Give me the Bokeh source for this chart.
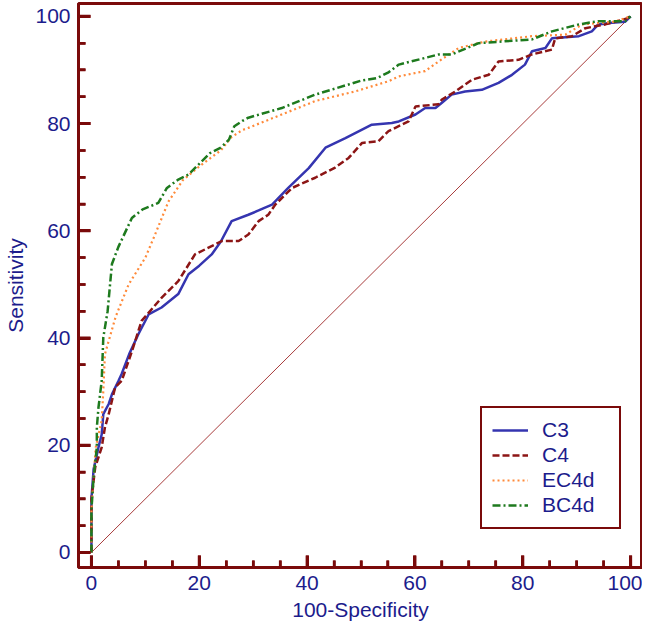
import math
from bokeh.plotting import figure
from bokeh.models import Range1d, SingleIntervalTicker, Legend, LegendItem
from bokeh.embed import file_html
from bokeh.resources import INLINE

# ---- data ----
series_names = ["C3", "C4", "EC4d", "BC4d"]

c3_x = [0, 0, 0.4, 1.3, 1.9, 2.2, 3.2, 3.8, 5.0, 5.6, 7.0, 8.7, 10.6, 13.0, 16.1, 18.0, 20.0, 22.3, 24.0,
        26.0, 29.1, 31.0, 33.5, 36.5, 40.3, 43.4, 47.1, 52.0, 55.7, 57.0, 60.1, 61.9, 63.8, 65.0, 66.8, 69.3,
        72.4, 75.5, 78.0, 80.4, 81.7, 84.2, 85.4, 90.4, 92.8, 94.0, 96.5, 99.0, 100]
c3_y = [0, 10, 15.5, 19.6, 22.0, 25.8, 27.7, 29.5, 32.0, 33.3, 37.0, 40.7, 44.4, 45.7, 48.2, 51.9, 53.5, 55.6, 58.0,
        61.8, 63.0, 63.8, 64.9, 68.0, 71.7, 75.5, 77.3, 79.8, 80.1, 80.4, 81.7, 82.9, 82.9, 83.9, 85.4, 86.0,
        86.3, 87.6, 89.1, 91.0, 93.5, 94.1, 95.9, 96.3, 97.2, 98.5, 98.8, 99.0, 100]

c4_x = [0, 0, 0.7, 1.9, 2.5, 3.2, 3.8, 4.4, 5.6, 7.5, 9.3, 13.0, 16.1, 19.2, 22.0, 24.2, 27.3, 29.1, 31.0,
        32.8, 34.1, 37.2, 41.5, 45.2, 47.7, 50.2, 53.2, 55.1, 58.8, 60.1, 64.4, 65.0, 67.5, 70.6, 73.7, 75.5,
        79.2, 81.7, 85.4, 86.0, 89.1, 91.6, 95.3, 99.0, 100]
c4_y = [0, 10, 15.9, 19.6, 23.3, 25.8, 28.3, 30.8, 32.0, 37.5, 43.2, 47.5, 50.6, 55.6, 57.0, 58.1, 58.1, 59.3, 61.8,
        63.0, 64.9, 68.0, 69.9, 71.8, 73.6, 76.4, 76.7, 78.6, 80.4, 83.2, 83.6, 84.5, 86.0, 88.2, 89.1, 91.6,
        91.9, 92.9, 93.8, 95.9, 96.3, 97.8, 98.5, 99.5, 100]

ec4d_x = [0, 0, 0.4, 0.8, 1.9, 2.2, 2.5, 4.5, 6.9, 10.0, 11.8, 14.3, 17.0, 20.0, 22.0, 24.0, 26.0, 28.0, 29.1,
          35.3, 41.5, 48.9, 55.1, 57.0, 61.9, 64.4, 68.1, 73.0, 81.7, 87.9, 91.0, 97.0, 100]
ec4d_y = [0, 8, 14.0, 19.6, 24.6, 30.2, 37.0, 44.0, 50.0, 55.0, 59.3, 65.5, 69.5, 72.0, 73.5, 75.0, 77.5, 78.8, 79.2,
          81.7, 84.2, 86.0, 87.9, 88.8, 89.8, 91.6, 94.1, 95.3, 96.3, 96.6, 98.5, 99.0, 100]

bc4d_x = [0, 0, 0.4, 1.0, 1.0, 1.3, 1.9, 2.2, 3.0, 3.8, 5.0, 7.5, 9.5, 12.4, 14.0, 16.0, 18.0, 20.0, 22.0,
          24.0, 25.5, 26.5, 28.0, 29.1, 35.3, 41.5, 47.7, 50.0, 53.0, 55.0, 57.0, 64.4, 66.8, 71.8, 81.7, 85.4,
          90.4, 94.0, 99.0, 100]
bc4d_y = [0, 8, 14.0, 19.6, 23.3, 27.0, 32.0, 40.1, 45.0, 53.8, 57.0, 62.4, 64.0, 65.2, 68.0, 69.5, 70.5, 72.5, 74.5,
          75.5, 77.0, 79.5, 80.5, 81.1, 82.9, 85.4, 87.3, 88.0, 88.5, 89.5, 91.0, 92.9, 92.9, 95.0, 95.7, 97.2,
          98.5, 99.1, 99.1, 100]

diag_x = [0, 100]
diag_y = [0, 100]

major_ticks = [0, 20, 40, 60, 80, 100]
minor_ticks = [5, 10, 15, 25, 30, 35, 45, 50, 55, 65, 70, 75, 85, 90, 95]

# ---- styles ----
MAROON = "#7a0a0a"
NAVY = "#1c1c8c"
FONT = "Liberation Sans"
FS = "21px"
X0, X1 = -2.4, 102.2
Y0, Y1 = -2.8, 102.4

p = figure(width=642, height=625, output_backend="svg", toolbar_location=None,
           x_range=Range1d(X0, X1), y_range=Range1d(Y0, Y1),
           min_border_left=78, min_border_right=0, min_border_top=3, min_border_bottom=58)

p.background_fill_color = "white"
p.border_fill_color = "white"
p.outline_line_color = MAROON
p.outline_line_width = 3
p.outline_line_alpha = 1
p.xgrid.visible = False
p.ygrid.visible = False

p.line(diag_x, diag_y, line_color="#a83c3c", line_width=1)

r_c3 = p.line(c3_x, c3_y, line_color="#3535b0", line_width=2.5)
r_c4 = p.line(c4_x, c4_y, line_color="#8c1515", line_width=2.5, line_dash="7 3")
r_ec = p.line(ec4d_x, ec4d_y, line_color="#ff8a3a", line_width=2.2, line_dash="2 3")
r_bc = p.line(bc4d_x, bc4d_y, line_color="#1e7a1e", line_width=2.5, line_dash="8 3 2 3")

# inward ticks drawn at the tick values (screen-length rays from the frame edges)
p.ray(x=major_ticks, y=[Y0] * len(major_ticks), length=12, angle=math.pi / 2,
      length_units="screen", line_color=MAROON, line_width=3)
p.ray(x=minor_ticks, y=[Y0] * len(minor_ticks), length=7, angle=math.pi / 2,
      length_units="screen", line_color=MAROON, line_width=2.5)
p.ray(x=[X0] * len(major_ticks), y=major_ticks, length=12, angle=0,
      length_units="screen", line_color=MAROON, line_width=3)
p.ray(x=[X0] * len(minor_ticks), y=minor_ticks, length=7, angle=0,
      length_units="screen", line_color=MAROON, line_width=2.5)

for ax in (p.xaxis[0], p.yaxis[0]):
    ax.ticker = SingleIntervalTicker(interval=20, num_minor_ticks=4)
    ax.axis_line_color = MAROON
    ax.axis_line_width = 3
    ax.major_tick_line_color = MAROON
    ax.major_tick_line_width = 3
    ax.minor_tick_line_color = MAROON
    ax.minor_tick_line_width = 2.5
    ax.major_tick_in = 12
    ax.major_tick_out = 0
    ax.minor_tick_in = 7
    ax.minor_tick_out = 0
    ax.major_label_text_color = NAVY
    ax.major_label_text_font = FONT
    ax.major_label_text_font_size = FS
    ax.major_label_standoff = 8
    ax.axis_label_text_color = NAVY
    ax.axis_label_text_font = FONT
    ax.axis_label_text_font_size = FS
    ax.axis_label_text_font_style = "normal"

p.xaxis[0].axis_label = "100-Specificity"
p.xaxis[0].axis_label_standoff = 5
p.yaxis[0].axis_label = "Sensitivity"
p.yaxis[0].axis_label_standoff = 5

legend = Legend(items=[LegendItem(label=n, renderers=[r]) for n, r in
                       zip(series_names, [r_c3, r_c4, r_ec, r_bc])],
                location=(402, 38), orientation="vertical")
legend.border_line_color = MAROON
legend.border_line_width = 2
legend.border_line_alpha = 1
legend.background_fill_color = "white"
legend.background_fill_alpha = 1
legend.padding = 10
legend.margin = 0
legend.spacing = 1
legend.glyph_width = 36
legend.glyph_height = 20
legend.label_height = 24
legend.label_width = 67
legend.label_standoff = 14
legend.label_text_font = FONT
legend.label_text_font_size = FS
legend.label_text_color = NAVY
p.add_layout(legend, "center")

open("out.html", "w").write(file_html(p, INLINE))
